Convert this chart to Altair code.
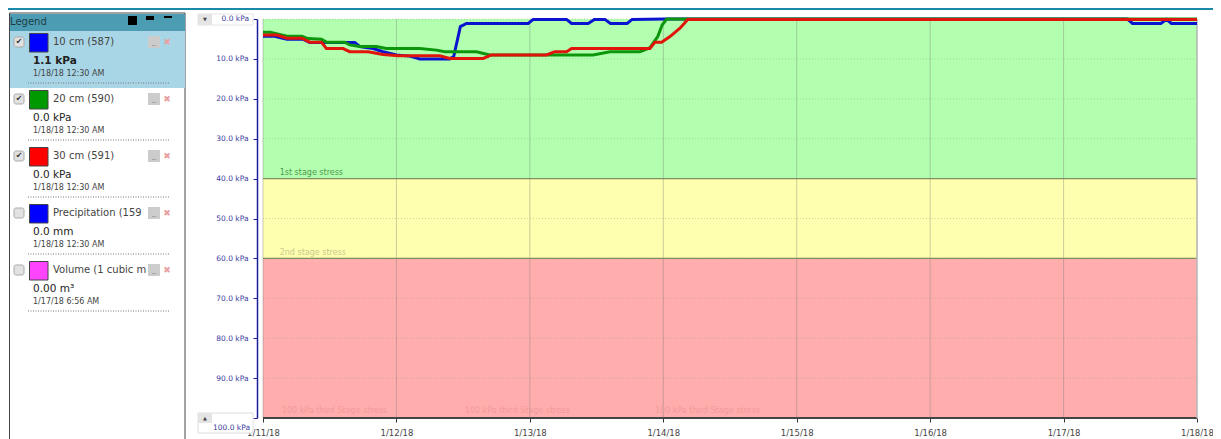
import altair as alt
import pandas as pd

# ---- data (hours after 1/11/18 00:00, kPa) ----
blue_h = [0,1.9,4.3,7.25,8.4,11.4,14.7,16.5,17.4,19.8,21.6,24,26.4,28.2,33.6,34.3,35.5,36.6,47.7,48.6,54.6,55.5,58.5,59.6,61.5,62.5,65.5,66.4,72.3,155.5,156.4,161.5,162.5,163.4,168]
blue_v = [4.3,4.3,5.1,5.1,5.9,5.9,5.9,5.9,6.9,7.4,8.2,9.0,9.3,10.0,10.0,9.4,1.9,1.1,1.1,0.1,0.1,1.1,1.1,0.1,0.1,1.1,1.1,0.1,0.0,0.0,1.1,1.1,0.1,1.1,1.1]
green_h = [0,1.3,4.3,7,8.1,10.5,11.4,14.7,15.6,17.4,20.4,22.2,28.2,31.2,32.7,38.4,40.8,52.2,59.4,62.4,67.8,69.6,71,71.8,72.6,168]
green_v = [3.3,3.3,4.3,4.3,4.9,5.1,5.8,5.8,6.5,6.9,6.9,7.4,7.4,7.8,8.2,8.2,9.0,9.0,9.0,8.2,8.2,7.2,4.4,1.5,0.0,0.0]
red_h = [0,2.5,4.3,7,8.4,10.5,11.4,14.4,15.6,18.9,21.6,24.3,31.8,33.6,39.6,41.1,51,52.5,54.6,55.5,69.6,70.5,71.7,73.2,75,76.4,168]
red_v = [4.0,4.0,4.8,4.8,5.8,5.8,7.4,7.4,8.2,8.2,8.9,9.2,9.2,9.9,9.9,9.0,9.0,8.2,8.2,7.4,7.4,5.8,5.8,4.4,2.3,0.1,0.1]

band_low = [0, 40, 60]
band_high = [40, 60, 100]
band_color = ["#b3ffb0", "#ffffb0", "#ffadad"]
y_ticks = [0,10,20,30,40,50,60,70,80,90,100]
days = ["2018-01-11","2018-01-12","2018-01-13","2018-01-14","2018-01-15","2018-01-16","2018-01-17","2018-01-18"]
stress_text = ["1st stage stress","2nd stage stress","100 kPa third Stage stress","100 kPa third Stage stress","100 kPa third Stage stress"]
stress_h = [3,3,3.4,36.3,70.5]
stress_v = [38.8,58.9,98.5,98.5,98.5]
stress_color = ["#4f9a4f","#c9c98c","#f09c9c","#f09c9c","#f09c9c"]

legend_names = ["10 cm (587)","20 cm (590)","30 cm (591)","Precipitation (159","Volume (1 cubic m"]
legend_colors = ["#0000ff","#009900","#ff0000","#0000ff","#ff44ff"]
legend_values = ["1.1 kPa","0.0 kPa","0.0 kPa","0.0 mm","0.00 m³"]
legend_dates = ["1/18/18 12:30 AM","1/18/18 12:30 AM","1/18/18 12:30 AM","1/18/18 12:30 AM","1/17/18 6:56 AM"]
legend_checked = [True,True,True,False,False]

# ---- page geometry ----
X0, Y0 = 263, 19
W, H = 934, 399
FONT = "DejaVu Sans"
one = pd.DataFrame({"a":[0]})

def ts(h):
    return (pd.Timestamp("2018-01-11") + pd.Timedelta(hours=h)).isoformat()

def box(x1, y1, x2, y2, fill, stroke=None, **kw):
    args = dict(fill=fill)
    if stroke:
        args.update(stroke=stroke, strokeWidth=1)
    args.update(kw)
    return alt.Chart(one).mark_rect(**args).encode(
        x=alt.value(x1-X0), x2=alt.value(x2-X0), y=alt.value(y1-Y0), y2=alt.value(y2-Y0))

def label(x, y, s, size=10, color="#444444", weight="normal", align="left"):
    return alt.Chart(one).mark_text(text=s, fontSize=size, color=color, fontWeight=weight,
                                    align=align, baseline="middle", font=FONT).encode(
        x=alt.value(x-X0), y=alt.value(y-Y0))

xs = alt.Scale(domain=[days[0]+"T00:00:00", days[-1]+"T00:00:00"])
ys = alt.Scale(domain=[0,100], reverse=True, nice=False, zero=False)

y_axis = alt.Axis(
    values=y_ticks, offset=6, domainColor="#1c1c9c", domainWidth=1.5, tickColor="#1c1c9c", tickSize=4,
    labelColor="#3c3ca0", labelFont=FONT, labelFontSize=7.5, labelPadding=5, grid=False,
    labelExpr="datum.value==100 ? '' : format(datum.value,'.1f')+' kPa'")
x_axis = alt.Axis(
    values=[d+"T00:00:00" for d in days], format="%-m/%-d/%y", domain=False, tickColor="#333333", tickSize=4,
    labelColor="#444444", labelFont=FONT, labelFontSize=8.5, labelPadding=6, grid=False, labelFlush=False, labelOverlap=False)

X = lambda f: alt.X(f, scale=xs, title=None, axis=x_axis)
Y = lambda f: alt.Y(f, scale=ys, title=None, axis=y_axis)

bands = alt.Chart(pd.DataFrame({"l":band_low,"h":band_high,"c":band_color})).mark_rect().encode(
    x=alt.value(0), x2=alt.value(W),
    y=Y("l:Q"), y2="h:Q",
    color=alt.Color("c:N", scale=None),
)

day_rules = alt.Chart(pd.DataFrame({"d":days})).mark_rule(color="#777777", opacity=0.38, strokeWidth=1).encode(x=X("d:T"))
hgrid = alt.Chart(pd.DataFrame({"v":y_ticks[:-1]})).mark_rule(color="#7f9f7f", opacity=0.42, strokeWidth=1, strokeDash=[1,2]).encode(y=Y("v:Q"))
thresholds = alt.Chart(pd.DataFrame({"v":[40,60]})).mark_rule(color="#7f8f60", strokeWidth=1.2).encode(y=Y("v:Q"))
baseline = alt.Chart(pd.DataFrame({"v":[100]})).mark_rule(color="#444444", strokeWidth=2).encode(y=Y("v:Q"))
right_edge = alt.Chart(one).mark_rule(color="#bbbbbb", strokeWidth=1.5).encode(
    x=alt.value(W), y=alt.value(0), y2=alt.value(H))

stress = alt.Chart(pd.DataFrame({"t":[ts(h) for h in stress_h],"v":stress_v,"s":stress_text,"c":stress_color})).mark_text(
    align="left", baseline="bottom", font=FONT, fontSize=8, dy=3).encode(
    x=X("t:T"), y=Y("v:Q"), text="s:N", color=alt.Color("c:N", scale=None))

def series(hh, vv, color):
    df = pd.DataFrame({"t":[ts(h) for h in hh],"v":vv})
    return alt.Chart(df).mark_line(color=color, strokeWidth=3, interpolate="linear", clip=False).encode(
        x=X("t:T"), y=Y("v:Q"))

lines = [series(blue_h, blue_v, "#0a14d0"), series(green_h, green_v, "#0c960c"), series(red_h, red_v, "#e0140a")]

# y-range boxes
range_boxes = [
    box(198,14,253,25,"#ffffff","#e4e4e4"),
    box(198,14,212,25,"#e4e4e4"),
    label(205,19,"▼",5,"#444444",align="center"),
    label(249,19,"0.0 kPa",7.5,"#3c3ca0",align="right"),
    box(198,413,253,433,"#ffffff","#dddddd"),
    box(198,413,212,423,"#e4e4e4"),
    label(205,418,"▲",5,"#444444",align="center"),
    label(250,428,"100.0 kPa",7.5,"#3c3ca0",align="right"),
]

# legend panel
panel = [
    box(8,8,1213,10,"#1a8aa8"),
    box(9.5,13,185,440,"#ffffff","#444444"),
    box(10,14,185,31,"#4c9cb4"),
    label(10,22,"Legend",10,"#1c3c44"),
    box(128,16,137,25,"#000000"),
    box(146,16,154,20,"#000000"),
    box(164,16,172,18,"#000000"),
    box(10,31,185,88,"#a8d6e6"),
]
for i,(n,c,v,d,k) in enumerate(zip(legend_names,legend_colors,legend_values,legend_dates,legend_checked)):
    dy = 57*i
    panel += [
        box(14,37+dy,24,47+dy,"#e2e2e2","#aaaaaa",cornerRadius=2),
        box(29.5,33.5+dy,48,52+dy,c,"#444444"),
        label(53,42+dy,n,10,"#444444"),
        box(148,36+dy,160,48+dy,"#cccccc"),
        label(154,44+dy,"..",7,"#555555",align="center"),
        label(167,42+dy,"✖",9,"#e8a0a0",align="center"),
        label(33,61+dy,v,10.5,"#222222","bold" if i==0 else "normal"),
        label(33,74+dy,d,8,"#444444"),
    ]
    if k:
        panel.append(label(19,42+dy,"✔",8,"#333333",align="center"))
    panel.append(alt.Chart(one).mark_rule(color="#777777", strokeDash=[1,1.5], strokeWidth=1).encode(
        x=alt.value(28-X0), x2=alt.value(170-X0), y=alt.value(83+dy-Y0)))

chart = alt.layer(
    bands, day_rules, hgrid, thresholds, baseline, right_edge, stress, *lines, *range_boxes, *panel
).properties(
    width=W, height=H,
    autosize=alt.AutoSizeParams(type="none"),
    padding={"left":255,"top":11,"right":16,"bottom":21},
    background="#ffffff",
).configure_view(stroke=None)

chart.save("out.html", embed_options={"renderer": "svg", "actions": False})
